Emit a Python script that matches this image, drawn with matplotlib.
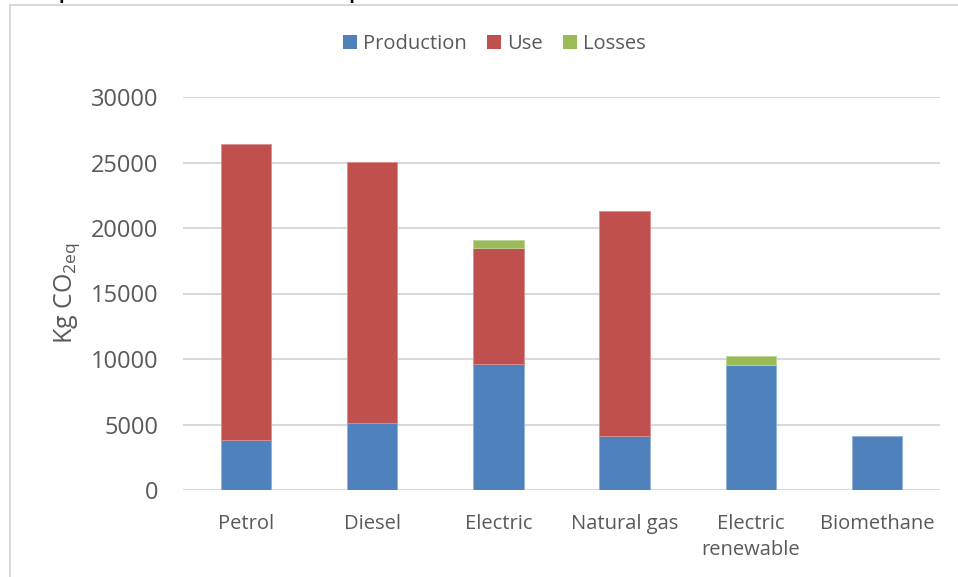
import matplotlib
matplotlib.use("Agg")
import matplotlib.pyplot as plt
from matplotlib.patches import Rectangle, Patch
import numpy as np

categories = ["Petrol", "Diesel", "Electric", "Natural gas", "Electric\nrenewable", "Biomethane"]
production = [3800, 5100, 9600, 4120, 9580, 4130]
use = [22600, 19950, 8900, 17200, 0, 0]
losses = [0, 0, 590, 0, 620, 0]
series_names = ["Production", "Use", "Losses"]
colors = ["#4F81BD", "#C0504D", "#9BBB59"]
edge_colors = ["#8FB0D8", "#D88F8D", "#BCD497"]
yticks = [0, 5000, 10000, 15000, 20000, 25000, 30000]

plt.rcParams['font.family'] = ['Open Sans', 'DejaVu Sans']

W, H = 958, 577
fig = plt.figure(figsize=(W / 100, H / 100), dpi=100)

# outer chart border
fig.patches.append(Rectangle((10 / W, -0.05), 1.2, 1 - 5 / H + 0.05,
                             transform=fig.transFigure, fill=False,
                             edgecolor="#D9D9D9", linewidth=1.5, zorder=0))

# title clipped at the very top, as in the reference
fig.text(0.02, 1 + 1 / H, "Comparison of the environmental impact of alternative fuels",
         fontsize=13, fontweight="bold", color="black", va="baseline", ha="left")

ax = fig.add_axes([183 / W, 1 - 490 / H, (940 - 183) / W, (490 - 97) / H])

x = np.arange(len(categories))
width = 0.40
bottom = np.zeros(len(categories))
for vals, name, c, ec in zip([production, use, losses], series_names, colors, edge_colors):
    v = np.array(vals, dtype=float)
    mask = v > 0
    ax.bar(x[mask], v[mask], width, bottom=bottom[mask], color=c, label=name, zorder=3,
           edgecolor=ec, linewidth=0.6)
    bottom = bottom + v

ax.set_xlim(-0.5, len(categories) - 0.5)
ax.set_ylim(0, 30000)
ax.set_yticks(yticks)
ax.set_yticklabels([str(v) for v in yticks])
ax.yaxis.grid(True, color="#D9D9D9", linewidth=1.5, zorder=0)
ax.set_axisbelow(True)
for s in ax.spines.values():
    s.set_visible(False)
ax.tick_params(axis="y", length=0, pad=18, labelsize=17, labelcolor="#595959")
ax.tick_params(axis="x", length=0, pad=17, labelsize=14.5, labelcolor="#595959")
ax.set_xticks(x)
ax.set_xticklabels(categories, linespacing=1.4)

ax.set_ylabel("Kg CO$_\\mathregular{2eq}$", fontsize=18, color="#595959", labelpad=6)

handles = [Patch(facecolor=c, edgecolor="none") for c in colors]
fig.legend(handles, series_names, loc="center", bbox_to_anchor=(494.5 / W, 1 - 44 / H),
           ncol=3, frameon=False, fontsize=14.5, labelcolor="#595959",
           handlelength=0.7, handleheight=0.7, handletextpad=0.3, columnspacing=1.0)

fig.savefig("out.png", dpi=100)
